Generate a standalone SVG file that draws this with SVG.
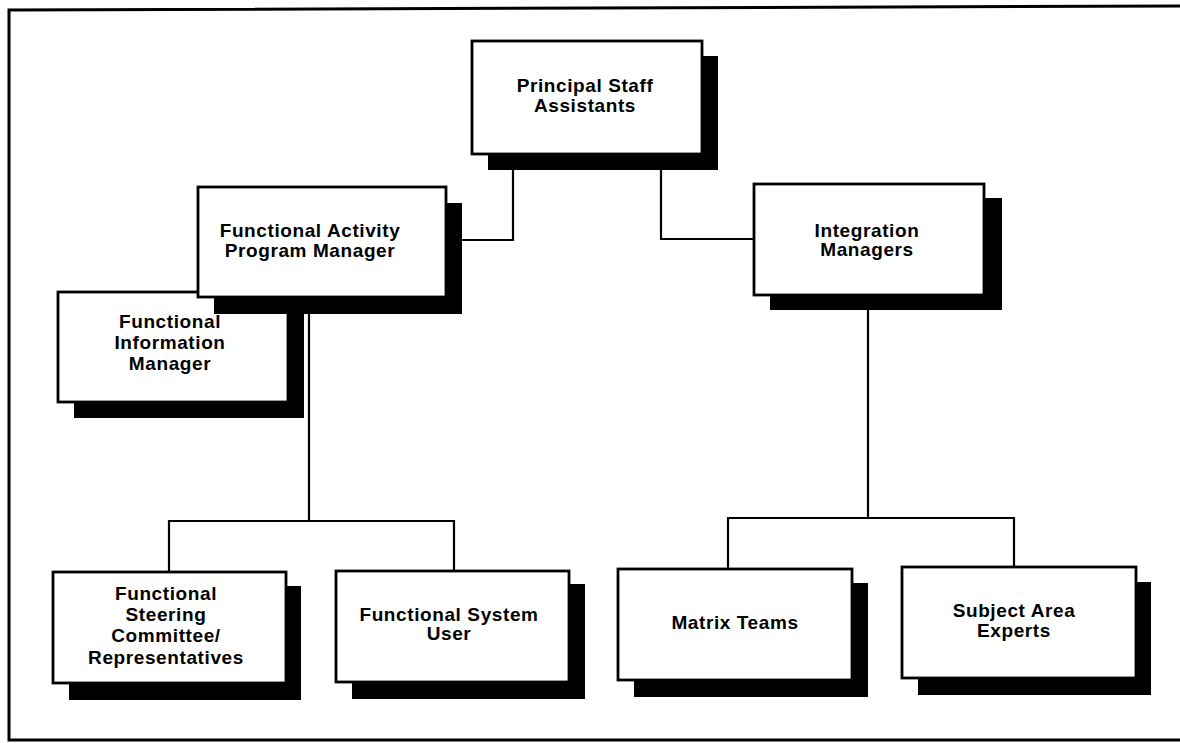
<svg xmlns="http://www.w3.org/2000/svg" width="1180" height="743" viewBox="0 0 1180 743">
<style>
.frame{fill:none;stroke:#000;stroke-width:3}
.conn{fill:none;stroke:#000;stroke-width:2.2}
.box{fill:#fff;stroke:#000;stroke-width:2.8}
.shadow{fill:#000}
.t{font-family:"Liberation Sans",Arial,Helvetica,sans-serif;font-weight:bold;font-size:19px;letter-spacing:0.6px;text-anchor:middle;fill:#000}
</style>
<rect width="1180" height="743" fill="#fff"/>
<g id="frame">
<path class="frame" d="M1180,6 L9,10 L9,740 L1180,740"/>
</g>
<g id="connectors">
<path class="conn" d="M513,154 V240 H446"/>
<path class="conn" d="M661,154 V239 H754"/>
<path class="conn" d="M309,297 V521"/>
<path class="conn" d="M169,572 V521 H454 V571"/>
<path class="conn" d="M868,295 V518"/>
<path class="conn" d="M728,569 V518 H1014 V567"/>
</g>
<g id="psa">
<rect class="shadow" x="488" y="56" width="230" height="114"/>
<rect class="box" x="472" y="41" width="230" height="113"/>
<text class="t" x="585" y="92">Principal Staff</text>
<text class="t" x="585" y="112">Assistants</text>
</g>
<g id="fim">
<rect class="shadow" x="74" y="308" width="230" height="110"/>
<rect class="box" x="58" y="292" width="230" height="110"/>
<text class="t" x="170" y="328">Functional</text>
<text class="t" x="170" y="349">Information</text>
<text class="t" x="170" y="370">Manager</text>
</g>
<g id="fapm">
<rect class="shadow" x="214" y="203" width="248" height="111"/>
<rect class="box" x="198" y="187" width="248" height="110"/>
<text class="t" x="310" y="237">Functional Activity</text>
<text class="t" x="310" y="257">Program Manager</text>
</g>
<g id="im">
<rect class="shadow" x="770" y="198" width="232" height="112"/>
<rect class="box" x="754" y="184" width="230" height="111"/>
<text class="t" x="867" y="237">Integration</text>
<text class="t" x="867" y="256">Managers</text>
</g>
<g id="fsc">
<rect class="shadow" x="69" y="586" width="232" height="114"/>
<rect class="box" x="53" y="572" width="233" height="111"/>
<text class="t" x="166" y="600">Functional</text>
<text class="t" x="166" y="621">Steering</text>
<text class="t" x="166" y="642">Committee/</text>
<text class="t" x="166" y="664">Representatives</text>
</g>
<g id="fsu">
<rect class="shadow" x="352" y="584" width="233" height="115"/>
<rect class="box" x="336" y="571" width="233" height="111"/>
<text class="t" x="449" y="621">Functional System</text>
<text class="t" x="449" y="640">User</text>
</g>
<g id="mt">
<rect class="shadow" x="634" y="583" width="234" height="114"/>
<rect class="box" x="618" y="569" width="234" height="111"/>
<text class="t" x="735" y="629">Matrix Teams</text>
</g>
<g id="sae">
<rect class="shadow" x="918" y="582" width="233" height="113"/>
<rect class="box" x="902" y="567" width="234" height="111"/>
<text class="t" x="1014" y="617">Subject Area</text>
<text class="t" x="1014" y="637">Experts</text>
</g>
</svg>
